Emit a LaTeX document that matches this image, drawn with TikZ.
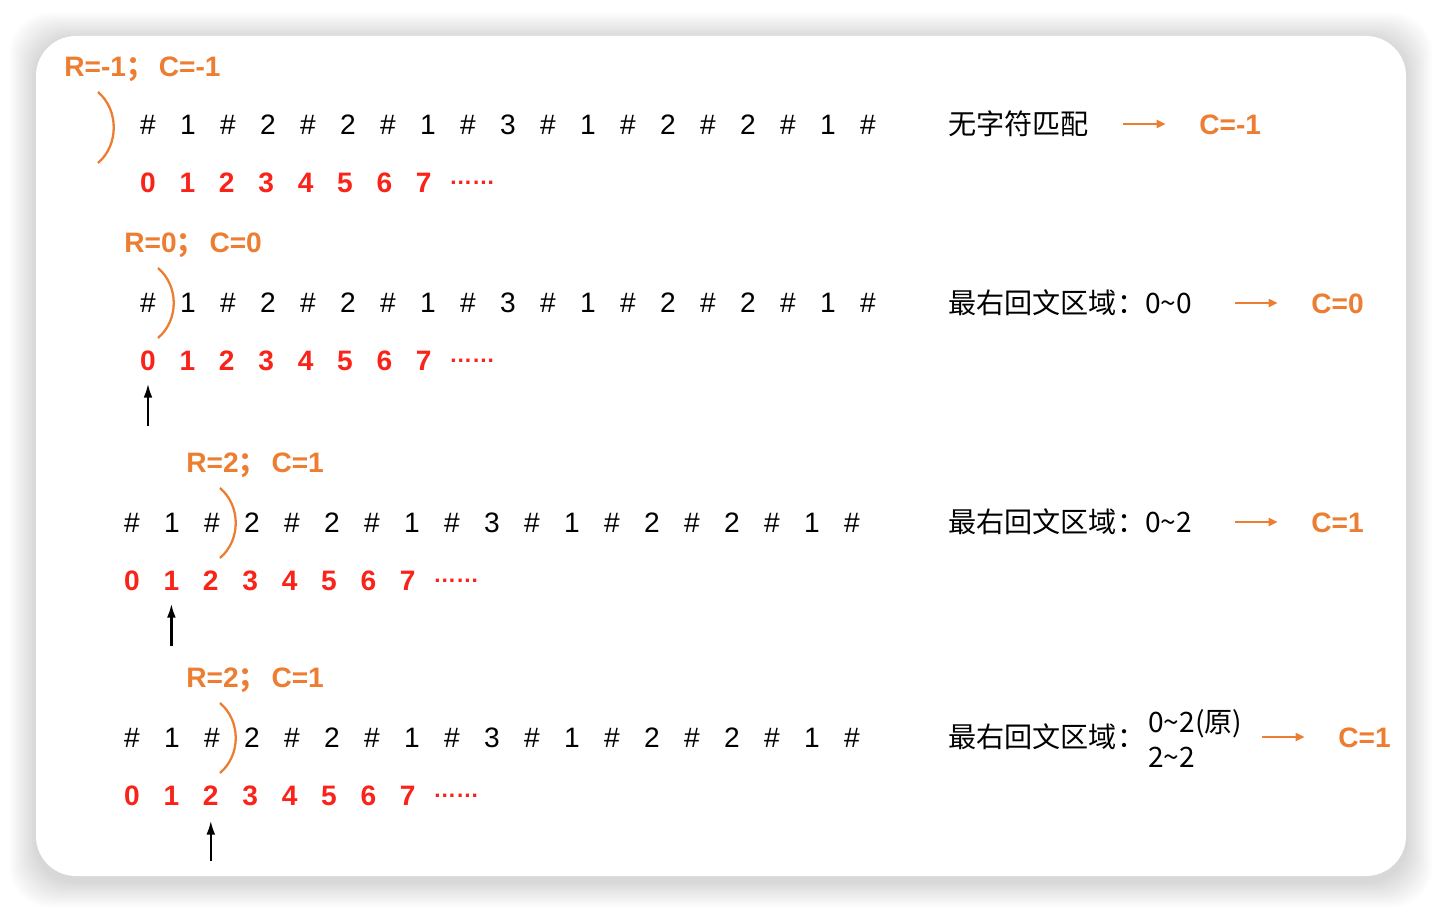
\documentclass[tikz,border=0pt]{standalone}
\usepackage{fontspec}
\setmainfont{Liberation Sans}
\newfontfamily\cjk{Noto Sans CJK SC}
\usetikzlibrary{arrows.meta}
\definecolor{accent}{RGB}{237,125,49}
\definecolor{idxred}{RGB}{250,35,25}

\begin{document}
\begin{tikzpicture}[x=0.02cm, y=-0.02cm, >=Latex,
    chr/.style={inner sep=0pt, text height=11.5pt, text depth=0pt, font=\fontsize{16}{19}\selectfont},
    idx/.style={chr, text=idxred, font=\fontsize{16}{19}\selectfont\bfseries},
    tag/.style={chr, anchor=west, text=accent, font=\fontsize{16}{19}\selectfont\bfseries},
    note/.style={chr, anchor=west, font=\fontsize{16}{19}\selectfont\cjk},
    bracket/.style={accent, line width=1.3pt},
    uparrow/.style={-{Latex[length=8pt,width=5pt]}, line width=1.4pt},
    goes/.style={-{Triangle[length=5pt,width=4.5pt]}, accent, line width=1.1pt}]
    \useasboundingbox (0,0) rectangle (1442,912);
    % card with soft shadow
    \foreach \k in {1,...,13}
        \fill[black, opacity=0.011, rounded corners=0.8cm] (36-2*\k,39-2*\k) rectangle (1406+2*\k,881+2*\k);
    \fill[white, rounded corners=0.8cm] (36,36) rectangle (1406,876);

    % strings and indices
    \foreach \r/\sx/\sy in {1/148/124, 2/148/302, 3/132/522, 4/132/737} {
        \foreach \c [count=\i from 0] in {\#,1,\#,2,\#,2,\#,1,\#,3,\#,1,\#,2,\#,2,\#,1,\#}
            \node[chr] (s\r-\i) at (\sx+40*\i,\sy) {\c};
        \foreach \i in {0,...,7}
            \node[idx] (n\r-\i) at (\sx+39.4*\i,\sy+58) {\i};
        \node[idx, anchor=west, font=\fontsize{13}{15}\selectfont\bfseries] (dots\r) at (\sx+301,\sy+50) {……};
    }

    % R and C
    \node[tag] (tag1) at (64,66) {R=-1{\cjk；}\,C=-1};
    \node[tag] (tag2) at (124,242) {R=0{\cjk；}\,C=0};
    \node[tag] (tag3) at (186,462) {R=2{\cjk；}\,C=1};
    \node[tag] (tag4) at (186,677) {R=2{\cjk；}\,C=1};

    % right border of the palindrome
    \draw[bracket] (98,92) .. controls +(21,18) and +(21,-18) .. (98,163);
    \draw[bracket] (158,268) .. controls +(21,18) and +(21,-18) .. (158,338);
    \draw[bracket] (220,488) .. controls +(21,18) and +(21,-18) .. (220,558);
    \draw[bracket] (220,703) .. controls +(21,18) and +(21,-18) .. (220,773);

    % center pointers
    \draw[uparrow] ([yshift=-1.12cm]n2-0.south) -- ([yshift=-0.26cm]n2-0.south);
    \draw[uparrow] ([yshift=-1.12cm]n3-1.south) -- ([yshift=-0.26cm]n3-1.south);
    \draw[uparrow] ([yshift=-1.12cm]n4-2.south) -- ([yshift=-0.3cm]n4-2.south);

    % notes on the right
    \node[note] (t1) at (948,124) {无字符匹配};
    \node[note] (t2) at (948,303) {最右回文区域：0\textasciitilde0};
    \node[note] (t3) at (948,522) {最右回文区域：0\textasciitilde2};
    \node[note] (t4) at (948,737) {最右回文区域：};
    \node[note] (u4) at (1148,722) {0\textasciitilde2(原)};
    \node[note] (v4) at (1148,757) {2\textasciitilde2};

    \node[tag] (c1) at (1199,124) {C=-1};
    \node[tag] (c2) at (1311,303) {C=0};
    \node[tag] (c3) at (1311,522) {C=1};
    \node[tag] (c4) at (1338,737) {C=1};
    \foreach \r in {1,...,4}
        \draw[goes] ([xshift=-1.52cm]c\r.west) -- ([xshift=-0.67cm]c\r.west);
\end{tikzpicture}
\end{document}
